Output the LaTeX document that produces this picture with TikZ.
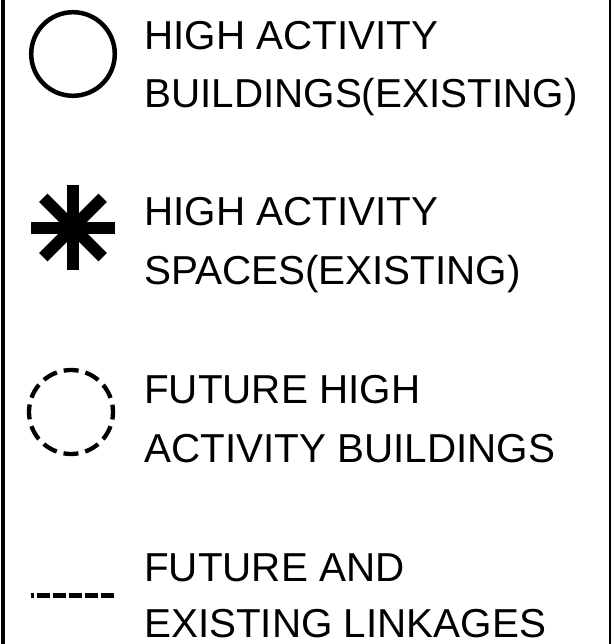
\documentclass[tikz,border=0pt]{standalone}
\usepackage{fontspec}
\setmainfont{Liberation Sans}
\usetikzlibrary{calc}
\begin{document}
\begin{tikzpicture}[x=1pt,y=-1pt,
  legtext/.style={anchor=base west,inner sep=0pt,font=\fontsize{40.4}{58}\selectfont},
  solidring/.style={draw=black,line width=4.5pt},
  dashring/.style={draw=black,line width=4.3pt,dash pattern=on 15pt off 7pt,dash phase=7.5pt},
  linkline/.style={draw=black,line width=5pt,dash pattern=on 13.3pt off 2.7pt},
  starbar/.style={line width=12pt,line cap=butt}]
\useasboundingbox (0,0) rectangle (614,644);
% frame sides
\draw[line width=4pt] (3,-10) -- (3,654);
\draw[line width=2pt] (610.3,-10) -- (610.3,654);
% symbol 1: solid circle
\draw[solidring] (73,54) circle[radius=41.8];
% symbol 2: asterisk
\coordinate (st) at (73,227.5);
\foreach \a in {0,45,90,135}{
  \draw[starbar] ($(st)+(\a:42)$) -- ($(st)+(\a+180:42)$);
}
% symbol 3: dashed circle
\draw[dashring] (71,412) circle[radius=42];
% symbol 4: dashed line
\coordinate (la) at (114,595);
\coordinate (lb) at (30.7,595);
\draw[linkline] (la) -- (lb);
% texts
\node[legtext] (t1a) at (144,49.5) {HIGH ACTIVITY};
\node[legtext] (t1b) at (144,107.5) {BUILDINGS(EXISTING)};
\node[legtext] (t2a) at (144,225) {HIGH ACTIVITY};
\node[legtext] (t2b) at (144,284) {SPACES(EXISTING)};
\node[legtext] (t3a) at (144,403) {FUTURE HIGH};
\node[legtext] (t3b) at (144,462) {ACTIVITY BUILDINGS};
\node[legtext] (t4a) at (144,581.5) {FUTURE AND};
\node[legtext] (t4b) at (144,637) {\raisebox{0pt}[\height][0pt]{EXISTING LINKAGES}};
\end{tikzpicture}
\end{document}
